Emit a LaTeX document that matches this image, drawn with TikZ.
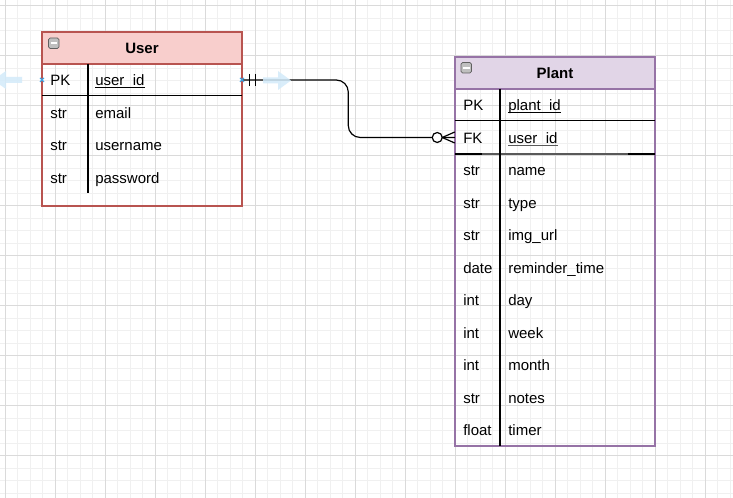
\documentclass[tikz,border=0pt]{standalone}
\usepackage{fontspec}
\setmainfont{Liberation Sans}
\usetikzlibrary{calc}
\definecolor{userfill}{HTML}{F8CECC}
\definecolor{userborder}{HTML}{B85450}
\definecolor{plantfill}{HTML}{E1D5E7}
\definecolor{plantborder}{HTML}{9673A6}
\definecolor{minorgrid}{HTML}{F0F0F0}
\definecolor{majorgrid}{HTML}{DADADA}
\definecolor{hoverblue}{HTML}{D3EBFA}
\definecolor{markblue}{HTML}{3AA4E6}
\begin{document}
\begin{tikzpicture}[x=0.75pt,y=-0.75pt,
  minorline/.style={draw=minorgrid,line width=0.75pt},
  majorline/.style={draw=majorgrid,line width=0.75pt},
  header/.style={line width=0.9pt,minimum width=150pt,minimum height=24pt,inner sep=0pt,
    font=\fontsize{11.25}{13}\selectfont\bfseries,text height=8pt,text depth=0pt},
  tablebox/.style={line width=0.9pt,minimum width=150pt,inner sep=0pt,fill=none},
  rowzone/.style={minimum width=150pt,minimum height=24pt,inner sep=0pt},
  celltext/.style={anchor=base west,inner sep=0pt,font=\fontsize{11.25}{13}\selectfont},
  rowline/.style={line width=0.75pt,black},
  sepline/.style={line width=1pt,black},
  link/.style={line width=0.9pt,black},
  icon/.style={fill=gray!50,draw=gray!75!black,line width=0.6pt,rounded corners=1.2pt},
  hover/.style={fill=hoverblue,draw=none,opacity=0.85},
  marker/.style={draw=markblue,line width=0.8pt}
]
\useasboundingbox (0,0) rectangle (733,498);
\fill[white] (0,0) rectangle (733,498);
% grid
\foreach \i in {0,...,58} \draw[minorline] ({5+12.5*\i},0) -- ({5+12.5*\i},498);
\foreach \j in {0,...,39} \draw[minorline] (0,{6+12.5*\j}) -- (733,{6+12.5*\j});
\foreach \i in {0,...,14} \draw[majorline] ({5+50*\i},0) -- ({5+50*\i},498);
\foreach \j in {0,...,9} \draw[majorline] (0,{6+50*\j}) -- (733,{6+50*\j});

% ---------- User table ----------
\node[header,draw=userborder,fill=userfill] (user) at (142,48) {User};
\node[tablebox,draw=userborder,minimum height=130.5pt] (userbox) at (142,119) {};
\node[rowzone] (userpk) at (142,80) {};
\draw[rowline] (42,96) -- (242,96);
\draw[sepline] (88,64) -- (88,193);
\draw[icon] (48.5,38) rectangle (59,48.5);
\draw[white,line width=1.4pt] (50.5,43.3) -- (57,43.3);
\node[celltext] (upkt) at (50,86) {PK};
\node[celltext] (upkn) at (95,86) {user\_id};
\draw[black,line width=0.75pt] ($(upkn.base west)+(0,1.8)$) -- ($(upkn.base east)+(0,1.8)$);
\node[celltext] (u2t) at (50,118.5) {str};
\node[celltext] (u2n) at (95,118.5) {email};
\node[celltext] (u3t) at (50,151) {str};
\node[celltext] (u3n) at (95,151) {username};
\node[celltext] (u4t) at (50,183.5) {str};
\node[celltext] (u4n) at (95,183.5) {password};

% ---------- Plant table ----------
\node[header,draw=plantborder,fill=plantfill] (plant) at (555,73) {Plant};
\node[tablebox,draw=plantborder,minimum height=291.75pt] (plantbox) at (555,251.5) {};
\node[rowzone,minimum height=24.75pt] (plantfk) at (555,137.5) {};
\draw[rowline] (455,121) -- (655,121);
\draw[gray!70!black,line width=1.6pt] (455,154) -- (655,154);
\draw[black,line width=1.6pt] (455,154) -- (482,154);
\draw[black,line width=1.6pt] (628,154) -- (655,154);
\draw[sepline] (500,89) -- (500,446);
\draw[icon] (461,62.5) rectangle (471.5,73);
\draw[white,line width=1.4pt] (463,67.8) -- (469.5,67.8);
\node[celltext] (ppkt) at (463,111) {PK};
\node[celltext] (ppkn) at (508,111) {plant\_id};
\draw[black,line width=0.75pt] ($(ppkn.base west)+(0,1.8)$) -- ($(ppkn.base east)+(0,1.8)$);
\node[celltext] (pfkt) at (463,143.5) {FK};
\node[celltext] (pfkn) at (508,143.5) {user\_id};
\draw[gray!70!black,line width=0.75pt] ($(pfkn.base west)+(0,1.8)$) -- ($(pfkn.base east)+(0,1.8)$);
\foreach \k/\t/\n in {2/str/name,3/str/type,4/str/img\_url,5/date/reminder\_time,6/int/day,7/int/week,8/int/month,9/str/notes,10/float/timer}{
  \node[celltext] (pt\k) at (463,{111+32.5*\k}) {\t};
  \node[celltext] (pn\k) at (508,{111+32.5*\k}) {\n};
}

% ---------- relationship ----------
\draw[link,rounded corners=9pt] (userpk.east) -- ++(106,0) |- (plantfk.west);
% mandatory one
\draw[link] ($(userpk.east)+(7,-6)$) -- ++(0,12);
\draw[link] ($(userpk.east)+(13,-6)$) -- ++(0,12);
% zero or many
\draw[link,fill=white] ($(plantfk.west)+(-17.5,0)$) circle[radius=5];
\draw[link] ($(plantfk.west)+(-12.5,0)$) -- ($(plantfk.west)+(0,-5.5)$);
\draw[link] ($(plantfk.west)+(-12.5,0)$) -- (plantfk.west);
\draw[link] ($(plantfk.west)+(-12.5,0)$) -- ($(plantfk.west)+(0,5.5)$);

% ---------- hover hints ----------
\fill[hover] (263,77.5) -- (278,77.5) -- (278,71) -- (291,80.5) -- (278,90) -- (278,83.5) -- (263,83.5) -- cycle;
\fill[hover] (22,77) -- (6,77) -- (6,71) -- (-7,80) -- (6,89) -- (6,83) -- (22,83) -- cycle;
\draw[marker] (40,78) -- (44,82) (40,82) -- (44,78);
\draw[marker] (240,78) -- (244,82) (240,82) -- (244,78);
\end{tikzpicture}
\end{document}
